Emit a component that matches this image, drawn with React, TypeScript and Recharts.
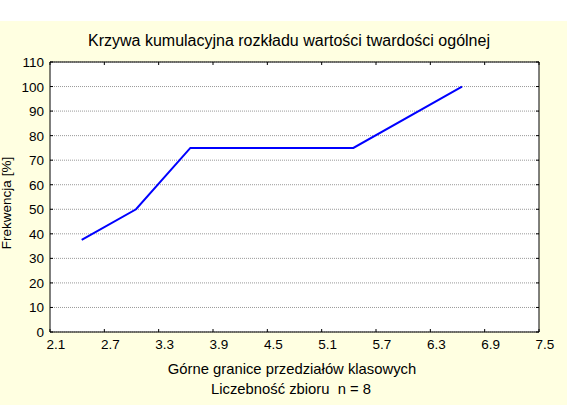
import React from "react";
import {
  LineChart,
  Line,
  XAxis,
  YAxis,
  CartesianGrid,
} from "recharts";

// upper class limits and cumulative frequency [%]
const classLimits = [2.45, 3.05, 3.65, 5.45, 6.65];
const cumulative = [37.5, 50, 75, 75, 100];

const xTicks = [2.1, 2.7, 3.3, 3.9, 4.5, 5.1, 5.7, 6.3, 6.9, 7.5];
const yTicks = [0, 10, 20, 30, 40, 50, 60, 70, 80, 90, 100, 110];

const title = "Krzywa kumulacyjna rozkładu wartości twardości ogólnej";
const xLabel = "Górne granice przedziałów klasowych";
const xLabel2 = "Liczebność zbioru  n = 8";
const yLabel = "Frekwencja [%]";

const data = classLimits.map((x, i) => ({ x, y: cumulative[i] }));

const FONT = "'Liberation Sans', Arial, sans-serif";

const BottomTick = (props: any) => {
  const { x, y, payload } = props;
  return (
    <g>
      <line x1={x} y1={y} x2={x} y2={y - 3} stroke="#000" />
      <text
        x={x + 6}
        y={y + 17}
        textAnchor="middle"
        fontSize={13.5}
        fontFamily={FONT}
        fill="#000"
      >
        {Number(payload.value).toFixed(1)}
      </text>
    </g>
  );
};

const TopTick = (props: any) => {
  const { x, y } = props;
  return <line x1={x} y1={y} x2={x} y2={y + 3} stroke="#000" />;
};

const LeftTick = (props: any) => {
  const { x, y, payload } = props;
  return (
    <g>
      <line x1={x} y1={y} x2={x + 3} y2={y} stroke="#000" />
      <text
        x={x - 6}
        y={y + 5}
        textAnchor="end"
        fontSize={13.5}
        fontFamily={FONT}
        fill="#000"
      >
        {payload.value}
      </text>
    </g>
  );
};

const RightTick = (props: any) => {
  const { x, y } = props;
  return <line x1={x} y1={y} x2={x - 3} y2={y} stroke="#000" />;
};

export default function App() {
  return (
    <div
      style={{
        position: "absolute",
        left: 0,
        top: 0,
        width: 567,
        height: 413,
        background: "#fff",
      }}
    >
      <div
        style={{
          position: "absolute",
          left: 0,
          top: 21,
          width: 567,
          height: 384,
          background: "#FFFFE1",
        }}
      />
      <div style={{ position: "absolute", left: 0, top: 0 }}>
        <LineChart
          width={567}
          height={413}
          data={data}
          margin={{ top: 61, right: 27, bottom: 80, left: 49 }}
        >
          <CartesianGrid
            fill="#fff"
            vertical={false}
            stroke="#999"
            strokeDasharray="1 1"
          />
          <XAxis
            dataKey="x"
            type="number"
            domain={[2.1, 7.5]}
            ticks={xTicks}
            interval={0}
            height={1}
            tickSize={0}
            tickMargin={0}
            tickLine={false}
            axisLine={{ stroke: "#000" }}
            tick={<BottomTick />}
            allowDataOverflow
          />
          <XAxis
            xAxisId="t"
            orientation="top"
            dataKey="x"
            type="number"
            domain={[2.1, 7.5]}
            ticks={xTicks}
            interval={0}
            height={1}
            tickSize={0}
            tickMargin={0}
            tickLine={false}
            axisLine={{ stroke: "#000" }}
            tick={<TopTick />}
            allowDataOverflow
          />
          <YAxis
            type="number"
            domain={[0, 110]}
            ticks={yTicks}
            interval={0}
            width={1}
            tickSize={0}
            tickMargin={0}
            tickLine={false}
            axisLine={{ stroke: "#000" }}
            tick={<LeftTick />}
            allowDataOverflow
          />
          <YAxis
            yAxisId="r"
            orientation="right"
            type="number"
            domain={[0, 110]}
            ticks={yTicks}
            interval={0}
            width={1}
            tickSize={0}
            tickMargin={0}
            tickLine={false}
            axisLine={{ stroke: "#000" }}
            tick={<RightTick />}
            allowDataOverflow
          />
          <Line
            type="linear"
            dataKey="y"
            stroke="#0000FF"
            strokeWidth={2}
            dot={false}
            activeDot={false}
            isAnimationActive={false}
          />
        </LineChart>
      </div>
      <svg
        width={567}
        height={413}
        style={{ position: "absolute", left: 0, top: 0, pointerEvents: "none" }}
      >
        <text
          x={289}
          y={46}
          textAnchor="middle"
          fontSize={16}
          fontFamily={FONT}
          fill="#000"
        >
          {title}
        </text>
        <text
          x={292}
          y={374}
          textAnchor="middle"
          fontSize={14.8}
          fontFamily={FONT}
          fill="#000"
        >
          {xLabel}
        </text>
        <text
          x={291}
          y={394}
          textAnchor="middle"
          fontSize={14.8}
          fontFamily={FONT}
          fill="#000"
          style={{ whiteSpace: "pre" }}
        >
          {xLabel2}
        </text>
        <text
          x={0}
          y={0}
          transform="translate(10.5,203) rotate(-90)"
          textAnchor="middle"
          fontSize={13.5}
          fontFamily={FONT}
          fill="#000"
        >
          {yLabel}
        </text>
      </svg>
    </div>
  );
}
